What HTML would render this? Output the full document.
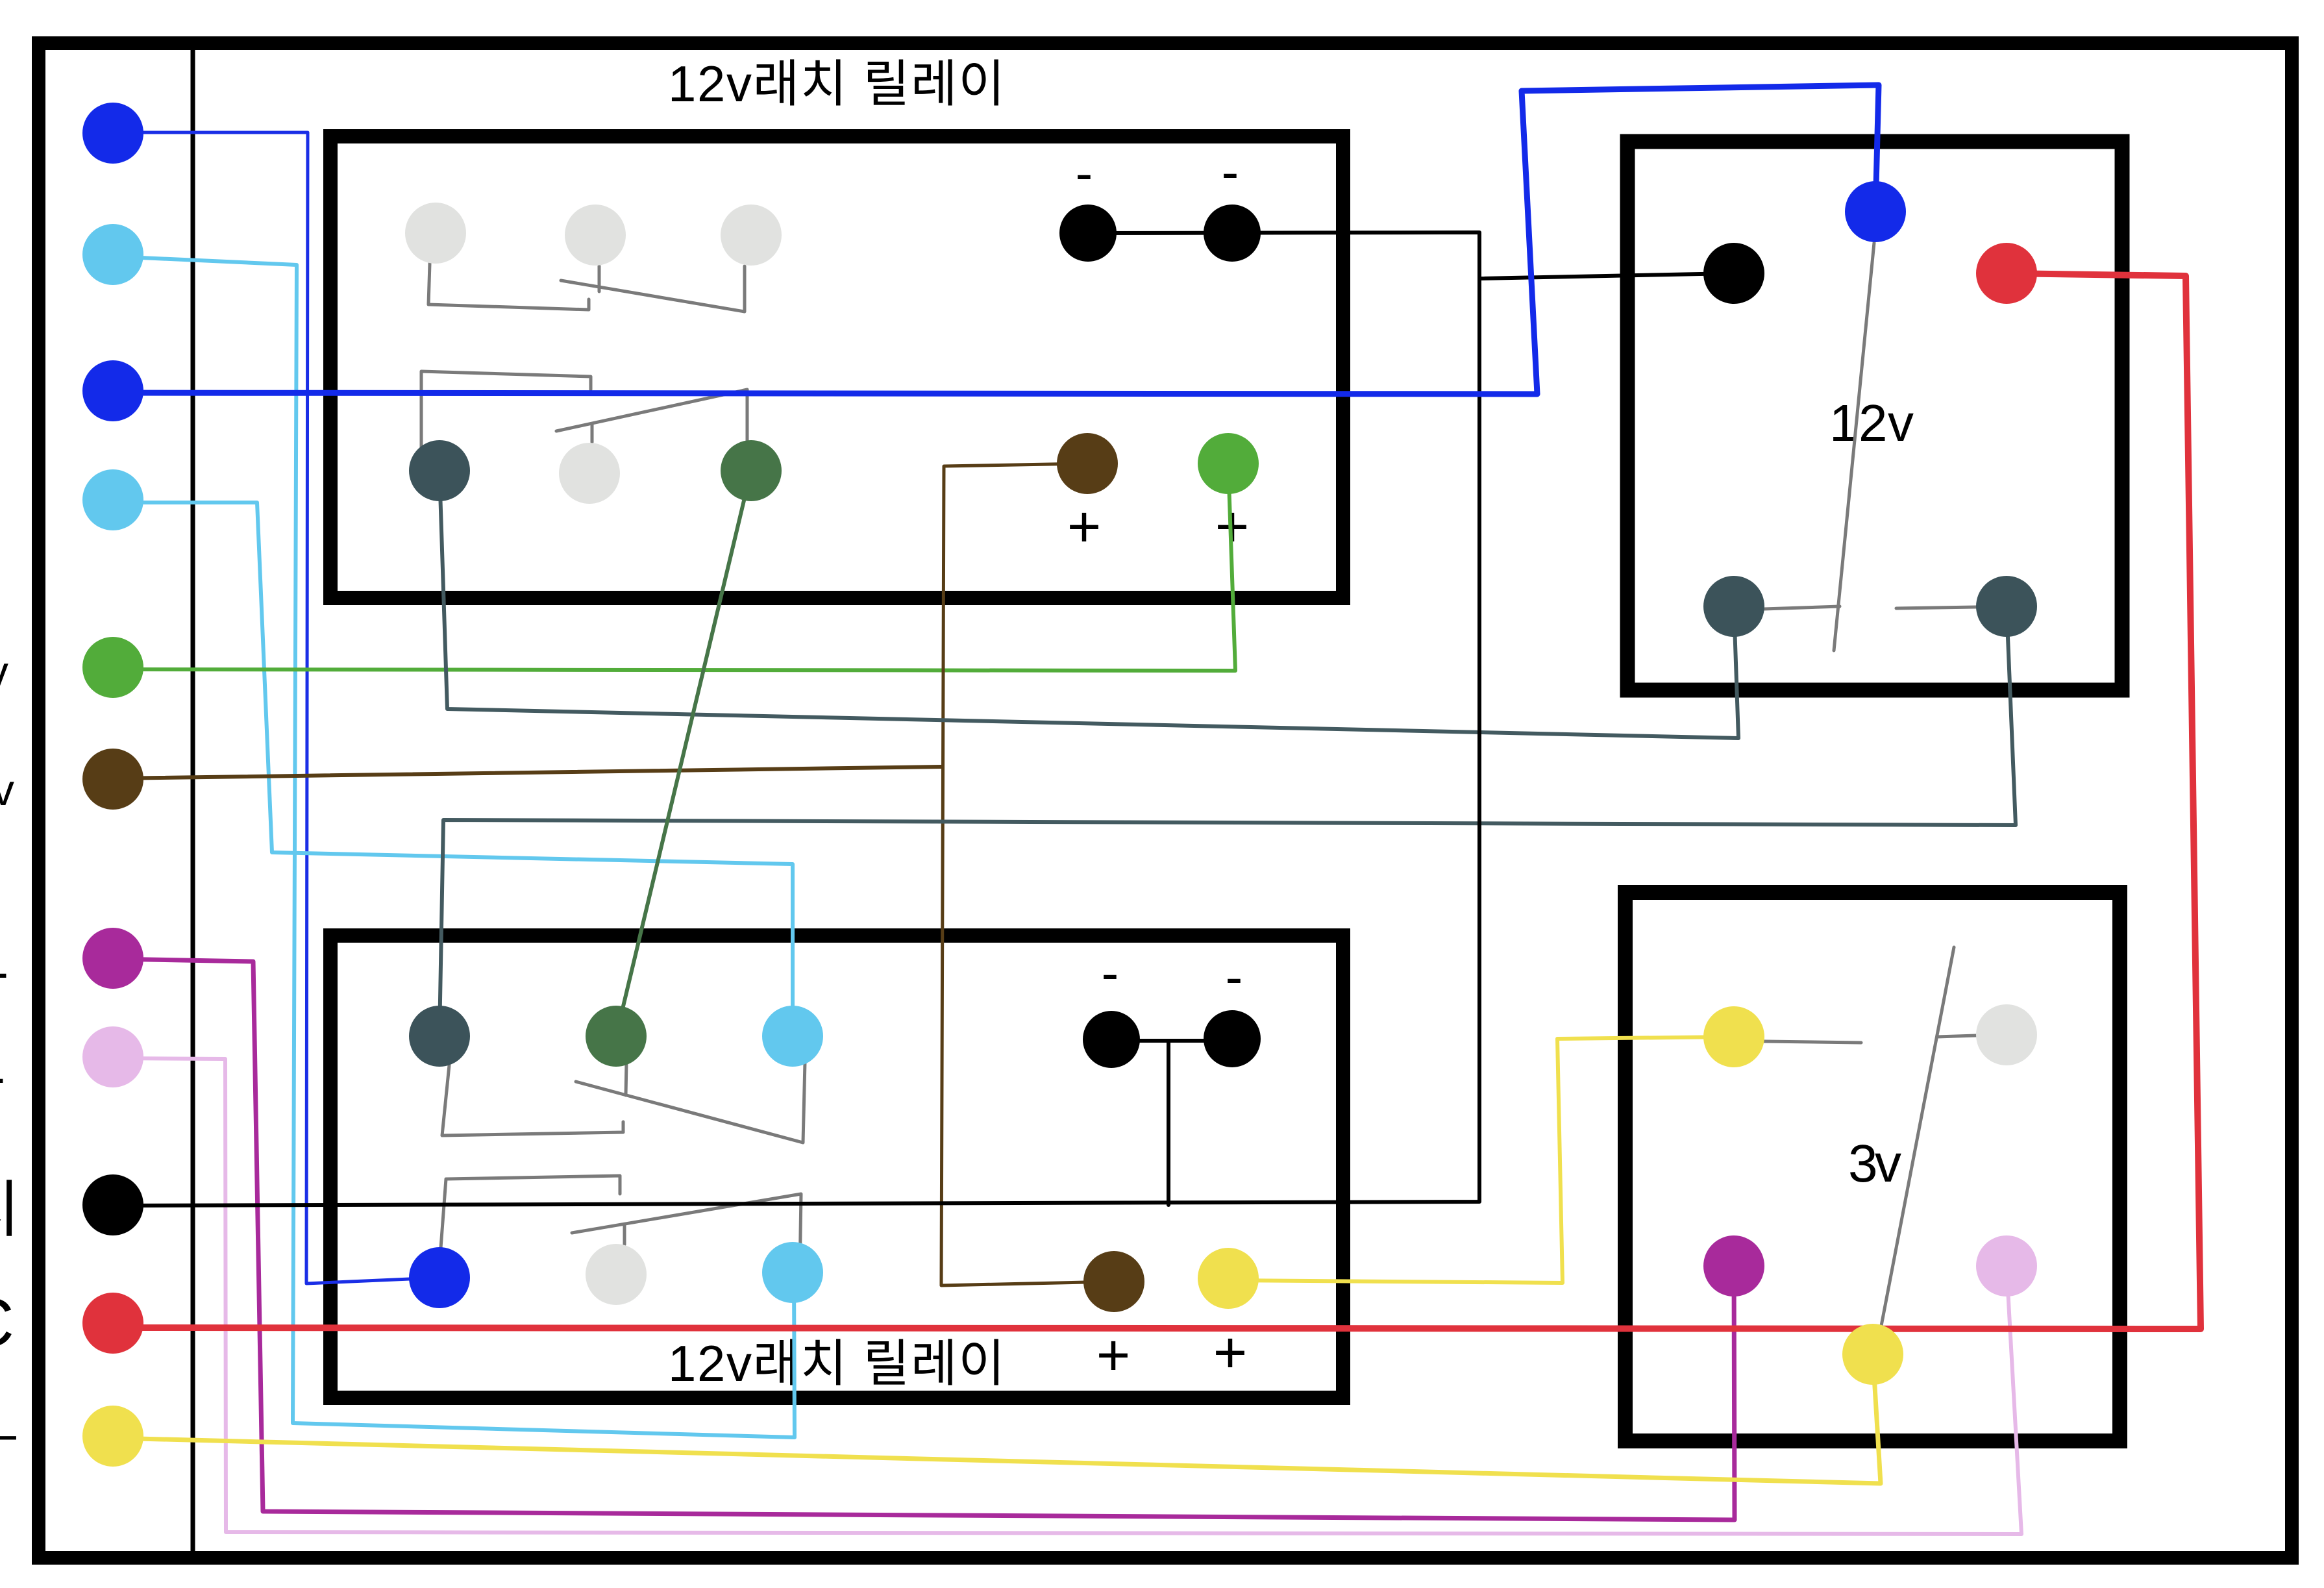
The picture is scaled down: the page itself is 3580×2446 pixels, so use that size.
<!DOCTYPE html>
<html>
<head>
<meta charset="utf-8">
<style>
html,body{margin:0;padding:0;background:#fff;}
svg{display:block;}
text{font-family:"Liberation Sans","Noto Sans CJK KR",sans-serif;fill:#000;}
</style>
</head>
<body>
<svg width="3580" height="2446" viewBox="0 0 3580 2446" xmlns="http://www.w3.org/2000/svg">
<rect x="0" y="0" width="3580" height="2446" fill="#fff"/>

<!-- partial left-edge labels -->
<text x="-21" y="1058" font-size="68">v</text>
<text x="-12" y="1240" font-size="68">v</text>
<text x="13" y="1524" font-size="80" text-anchor="end">-</text>
<text x="8" y="1686" font-size="80" text-anchor="end">-</text>
<text x="-57" y="1896" font-size="95">지</text>
<text x="-54" y="2073" font-size="105">C</text>
<text x="25" y="2235" font-size="80" text-anchor="end">–</text>

<!-- outer frame -->
<rect x="59.5" y="66.5" width="3471" height="2333" fill="none" stroke="#000" stroke-width="21"/>
<line x1="297" y1="66" x2="297" y2="2400" stroke="#000" stroke-width="7"/>

<!-- boxes -->
<rect x="509" y="210" width="1560" height="711" fill="none" stroke="#000" stroke-width="22"/>
<rect x="509" y="1441" width="1560" height="712" fill="none" stroke="#000" stroke-width="22"/>
<rect x="2507" y="218" width="762" height="845" fill="none" stroke="#000" stroke-width="23"/>
<rect x="2503.5" y="1374.5" width="762" height="845" fill="none" stroke="#000" stroke-width="23"/>

<!-- titles -->
<text x="1029" y="156" font-size="78" textLength="519" lengthAdjust="spacing">12v래치 릴레이</text>
<text x="1029" y="2127" font-size="78" textLength="519" lengthAdjust="spacing">12v래치 릴레이</text>
<text x="2818" y="679" font-size="80" textLength="130" lengthAdjust="spacing">12v</text>
<text x="2847" y="1820" font-size="82" textLength="82" lengthAdjust="spacing">3v</text>

<!-- +/- labels -->
<g font-size="80" text-anchor="middle">
<text x="1670" y="294">-</text>
<text x="1895" y="292">-</text>
<text x="1710" y="1526">-</text>
<text x="1901" y="1532">-</text>
</g>
<g font-size="90" text-anchor="middle">
<text x="1670" y="842">+</text>
<text x="1898" y="842">+</text>
<text x="1715" y="2118">+</text>
<text x="1895" y="2114">+</text>
</g>

<!-- switch symbols (gray) -->
<g fill="none" stroke="#7a7a7a" stroke-width="5" stroke-linejoin="round" stroke-linecap="round">
<path d="M662,406 L660,469 L907,477 L907,461"/>
<path d="M923,410 L923,449"/>
<path d="M864,432 L1147,480 L1147,410"/>
<path d="M649,689 L649,572 L910,580 L910,600"/>
<path d="M857,664 L1151,600 L1151,680"/>
<path d="M912,654 L912,681"/>
<path d="M692,1641 L681,1749 L960,1744 L960,1728"/>
<path d="M965,1636 L964,1687"/>
<path d="M887,1666 L1237,1760 L1240,1636"/>
<path d="M679,1922 L687,1816 L955,1811 L955,1839"/>
<path d="M881,1899 L1234,1839 L1232,1964"/>
<path d="M962,1887 L962,1917"/>
<path d="M2887,374 L2825,1002"/>
<path d="M2717,938 L2834,934"/>
<path d="M2921,937 L3044,935"/>
<path d="M2717,1604 L2867,1606"/>
<path d="M3010,1459 L2898,2042"/>
<path d="M3044,1595 L2984,1597"/>
</g>

<!-- wires -->
<g fill="none" stroke-linejoin="round" stroke-linecap="round">
<path d="M174,204 L474,204 L472,1977 L631,1970" stroke="#1a2ee6" stroke-width="5"/>
<path d="M174,395 L457,408 L451,2192 L1224,2214 L1223,1966" stroke="#62c8ee" stroke-width="6"/>
<path d="M174,774 L396,774 L419,1313 L1221,1331 L1221,1596" stroke="#62c8ee" stroke-width="6"/>
<path d="M174,1031 L1903,1033 L1892,714" stroke="#52ac3a" stroke-width="6"/>
<path d="M174,1199 L1450,1181" stroke="#573d16" stroke-width="6"/>
<path d="M1675,714 L1454,718 L1450,1980 L1716,1974" stroke="#573d16" stroke-width="5"/>
<path d="M677,725 L689,1092 L2678,1137 L2671,934" stroke="#435a60" stroke-width="6"/>
<path d="M3091,934 L3105,1271 L683,1263 L677,1596" stroke="#435a60" stroke-width="6"/>
<path d="M1157,725 L949,1596" stroke="#467548" stroke-width="6"/>
<path d="M174,1477 L390,1481 L405,2328 L2672,2341 L2671,1950" stroke="#a82a9b" stroke-width="7"/>
<path d="M174,1630 L347,1631 L348,2360 L3114,2363 L3091,1950" stroke="#e6b9e8" stroke-width="6"/>
<path d="M174,1857 L2279,1851 L2279,358 L1676,359" stroke="#000" stroke-width="6"/>
<path d="M2279,429 L2671,421" stroke="#000" stroke-width="6"/>
<path d="M1712,1603 L1898,1603 M1800,1603 L1800,1856" stroke="#000" stroke-width="6"/>
<path d="M174,2215 L2897,2285 L2885,2086" stroke="#f0e04e" stroke-width="7"/>
<path d="M1892,1972 L2407,1976 L2399,1600 L2671,1597" stroke="#f0e04e" stroke-width="6"/>
<path d="M174,2045 L3390,2047 L3367,425 L3091,421" stroke="#e0323c" stroke-width="10"/>
<path d="M174,605 L2368,607 L2344,140 L2894,131 L2889,326" stroke="#132ae9" stroke-width="9"/>
</g>

<!-- dots: left column -->
<g>
<circle cx="174" cy="205" r="47" fill="#132ae9"/>
<circle cx="174" cy="392" r="47" fill="#62c8ee"/>
<circle cx="174" cy="602" r="47" fill="#132ae9"/>
<circle cx="174" cy="770" r="47" fill="#62c8ee"/>
<circle cx="174" cy="1028" r="47" fill="#52ac3a"/>
<circle cx="174" cy="1200" r="47" fill="#573d16"/>
<circle cx="174" cy="1476" r="47" fill="#a82a9b"/>
<circle cx="174" cy="1628" r="47" fill="#e6b9e8"/>
<circle cx="174" cy="1856" r="47" fill="#000"/>
<circle cx="174" cy="2038" r="47" fill="#e0323c"/>
<circle cx="174" cy="2212" r="47" fill="#f0e04e"/>
</g>

<!-- dots: relay 1 -->
<g>
<circle cx="671" cy="359" r="47" fill="#e1e2e0"/>
<circle cx="917" cy="362" r="47" fill="#e1e2e0"/>
<circle cx="1157" cy="362" r="47" fill="#e1e2e0"/>
<circle cx="677" cy="725" r="47" fill="#3c535a"/>
<circle cx="908" cy="729" r="47" fill="#e1e2e0"/>
<circle cx="1157" cy="725" r="47" fill="#467548"/>
<circle cx="1676" cy="359" r="44" fill="#000"/>
<circle cx="1898" cy="359" r="44" fill="#000"/>
<circle cx="1675" cy="714" r="47" fill="#573d16"/>
<circle cx="1892" cy="714" r="47" fill="#52ac3a"/>
</g>

<!-- dots: relay 2 -->
<g>
<circle cx="677" cy="1596" r="47" fill="#3c535a"/>
<circle cx="949" cy="1596" r="47" fill="#467548"/>
<circle cx="1221" cy="1596" r="47" fill="#62c8ee"/>
<circle cx="677" cy="1968" r="47" fill="#132ae9"/>
<circle cx="949" cy="1963" r="47" fill="#e1e2e0"/>
<circle cx="1221" cy="1960" r="47" fill="#62c8ee"/>
<circle cx="1712" cy="1601" r="44" fill="#000"/>
<circle cx="1898" cy="1600" r="44" fill="#000"/>
<circle cx="1716" cy="1974" r="47" fill="#573d16"/>
<circle cx="1892" cy="1969" r="47" fill="#f0e04e"/>
</g>

<!-- dots: right relay 12v -->
<g>
<circle cx="2889" cy="326" r="47" fill="#132ae9"/>
<circle cx="2671" cy="421" r="47" fill="#000"/>
<circle cx="3091" cy="421" r="47" fill="#e0323c"/>
<circle cx="2671" cy="934" r="47" fill="#3c535a"/>
<circle cx="3091" cy="934" r="47" fill="#3c535a"/>
</g>

<!-- dots: right relay 3v -->
<g>
<circle cx="2671" cy="1597" r="47" fill="#f0e04e"/>
<circle cx="3091" cy="1594" r="47" fill="#e1e2e0"/>
<circle cx="2671" cy="1950" r="47" fill="#a82a9b"/>
<circle cx="3091" cy="1950" r="47" fill="#e6b9e8"/>
<circle cx="2885" cy="2086" r="47" fill="#f0e04e"/>
</g>
</svg>
</body>
</html>
